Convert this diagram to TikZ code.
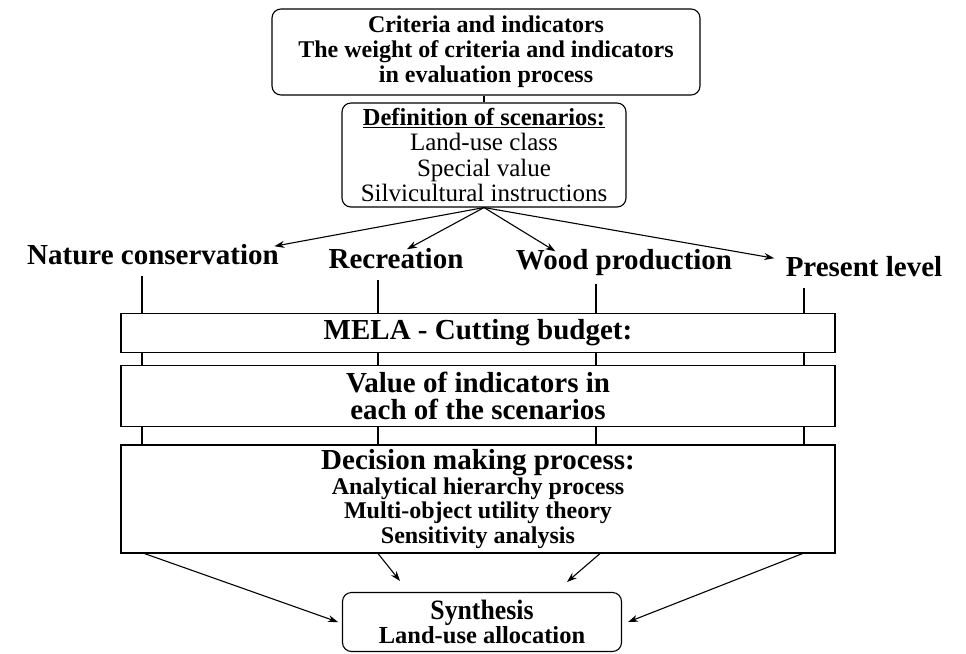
\documentclass[tikz,border=0pt]{standalone}
\usepackage{fontspec}
\setmainfont{Liberation Serif}
\newfontfamily\narrowserif[FakeStretch=0.92]{Liberation Serif}
\usetikzlibrary{arrows.meta,calc}

\begin{document}
\begin{tikzpicture}[x=1pt,y=-1pt,
  line width=1.1pt,
  roundbox/.style={draw, rounded corners=9pt, fill=white, align=center, inner sep=0pt},
  bandbox/.style={draw, fill=white, align=center, inner sep=0pt, minimum width=714pt},
  lbl/.style={font=\fontsize{29}{30}\selectfont\bfseries, inner sep=1pt},
  arr/.style={-{Stealth[length=10pt,width=7pt]}}
]
\useasboundingbox (0,0) rectangle (966,653);

% criteria box and scenario definition box
\node[roundbox, minimum width=428pt, minimum height=86pt,
      font=\fontsize{24}{25}\selectfont\bfseries] (crit) at (486,52)
  {\rule{0pt}{4pt}Criteria and indicators\\The weight of criteria and indicators\\in evaluation process};
\node[roundbox, minimum width=284pt, minimum height=104pt,
      font=\fontsize{25}{25.5}\selectfont] (def) at (484,155)
  {{\fontsize{24.5}{25}\selectfont\bfseries\underline{Definition of scenarios:}}\\Land-use class\\Special value\\Silvicultural instructions};
\draw (crit.south -| def.north) -- (def.north);

% scenario labels
\node[lbl] (nat)  at (153,255) {Nature conservation};
\node[lbl] (rec)  at (396,259) {Recreation};
\node[lbl] (wood) at (624,263) {Wood production};
\node[lbl] (pres) at (864,267) {Present level};

\draw[arr] (def.south) -- ([xshift=-6pt,yshift=-3pt]nat.north east);
\draw[arr] (def.south) -- ([xshift=11pt,yshift=-2pt]rec.north);
\draw[arr] (def.south) -- ([xshift=41pt,yshift=-3pt]wood.north west);
\draw[arr] (def.south) -- ([xshift=-10pt,yshift=-3pt]pres.north west);

% vertical scenario lines running through the processing bands
\coordinate (v1) at (142,276);
\coordinate (v2) at (378,280);
\coordinate (v3) at (596,284);
\coordinate (v4) at (804,288);

% processing bands
\node[bandbox, minimum height=39pt, font=\fontsize{29}{30}\selectfont\bfseries]
  (mela) at (478,333) {MELA - Cutting budget:};
\node[bandbox, minimum height=61pt, font=\fontsize{29}{27}\selectfont\bfseries]
  (val) at (478,396) {Value of indicators in\\each of the scenarios};
\node[bandbox, minimum height=108pt, font=\fontsize{24}{24.5}\selectfont\bfseries]
  (dec) at (478,499)
  {{\fontsize{29}{26}\selectfont Decision making process:}\\Analytical hierarchy process\\Multi-object utility theory\\Sensitivity analysis};

\draw (v1) -- (v1 |- mela.north);
\draw (v2) -- (v2 |- mela.north);
\draw (v3) -- (v3 |- mela.north);
\draw (v4) -- (v4 |- mela.north);
\foreach \v in {v1,v2,v3,v4}{
  \draw (\v |- mela.south) -- (\v |- val.north);
  \draw (\v |- val.south) -- (\v |- dec.north);
}

% synthesis
\node[roundbox, minimum width=279pt, minimum height=59pt, font=\bfseries] (syn) at (482,622)
  {{\narrowserif\fontsize{28}{27}\selectfont Synthesis}\\{\fontsize{24.5}{28}\selectfont Land-use allocation}};

\coordinate (s2) at (400,581);
\coordinate (s3) at (567,582);
\draw[arr] ([xshift=24pt]dec.south west) -- ([xshift=-4pt]syn.west);
\draw[arr] ([xshift=-100pt]dec.south) -- (s2);
\draw[arr] ([xshift=122pt]dec.south) -- (s3);
\draw[arr] ([xshift=-33pt]dec.south east) -- ([xshift=6pt]syn.east);
\end{tikzpicture}
\end{document}
